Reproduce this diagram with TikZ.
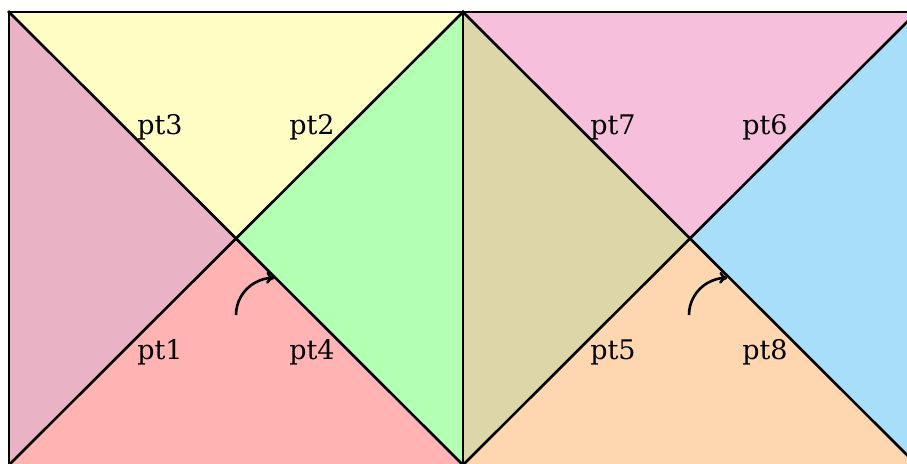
\documentclass[tikz,border=0pt]{standalone}
\usepackage{fontspec}
\setmainfont{DejaVu Serif}
\usetikzlibrary{arrows.meta}
\definecolor{cA}{HTML}{EAB2C5}
\definecolor{cB}{HTML}{FFFCC4}
\definecolor{cC}{HTML}{B3FFB3}
\definecolor{cD}{HTML}{FFB3B3}
\definecolor{cE}{HTML}{DDD6A8}
\definecolor{cF}{HTML}{F6BFDB}
\definecolor{cG}{HTML}{A9DEFA}
\definecolor{cH}{HTML}{FED7B0}
\begin{document}
\begin{tikzpicture}[x=1pt,y=-1pt,
  edge/.style={line width=2.6pt, line cap=rect},
  lbl/.style={font=\fontsize{27}{31}\selectfont, inner sep=0pt},
  turn/.style={line width=2.6pt, -{To[length=8pt,width=12pt]}}]
\useasboundingbox (0,0) rectangle (907,463);
\clip (0,0) rectangle (907,463);
\coordinate (A) at (9,12);
\coordinate (B) at (463,12);
\coordinate (C) at (917,12);
\coordinate (D) at (9,465);
\coordinate (E) at (463,465);
\coordinate (F) at (917,465);
\coordinate (O1) at (236,238.5);
\coordinate (O2) at (690,238.5);
% fills
\fill[cA] (A) -- (O1) -- (D) -- cycle;
\fill[cB] (A) -- (O1) -- (B) -- cycle;
\fill[cC] (B) -- (O1) -- (E) -- cycle;
\fill[cD] (D) -- (O1) -- (E) -- cycle;
\fill[cE] (B) -- (O2) -- (E) -- cycle;
\fill[cF] (B) -- (O2) -- (C) -- cycle;
\fill[cG] (C) -- (O2) -- (F) -- cycle;
\fill[cH] (E) -- (O2) -- (F) -- cycle;
% lines
\draw[edge] (A) -- (C);
\draw[edge] (A) -- (D);
\draw[edge] (B) -- (E);
\draw[edge] (A) -- (E);
\draw[edge] (B) -- (D);
\draw[edge] (B) -- (F);
\draw[edge] (C) -- (E);
% labels
\node[lbl] (pt3) at (160,127) {pt3};
\node[lbl] (pt2) at (312,127) {pt2};
\node[lbl] (pt1) at (160,352) {pt1};
\node[lbl] (pt4) at (312,352) {pt4};
\node[lbl] (pt7) at (613,127) {pt7};
\node[lbl] (pt6) at (765,127) {pt6};
\node[lbl] (pt5) at (613,352) {pt5};
\node[lbl] (pt8) at (765,352) {pt8};
% turn arrows
\draw[turn] (236,315) arc[start angle=180, end angle=272, radius=37];
\draw[turn] (689,315) arc[start angle=180, end angle=272, radius=37];
\end{tikzpicture}
\end{document}
